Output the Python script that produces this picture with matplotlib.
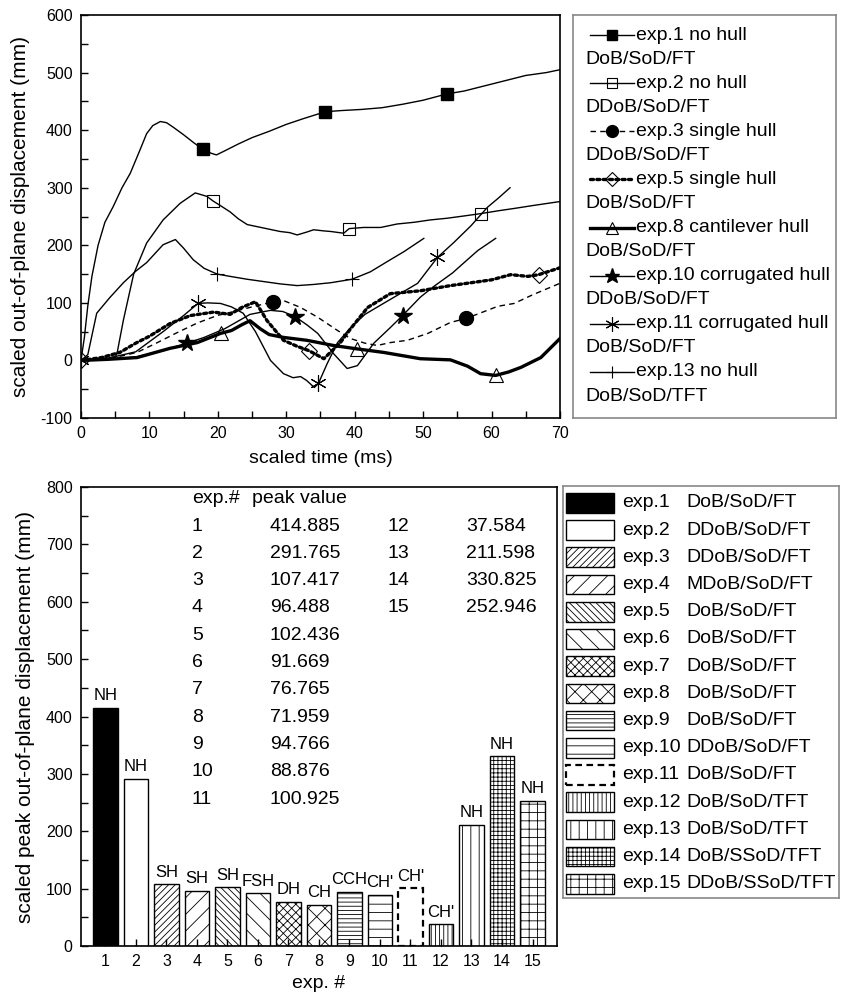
import matplotlib
matplotlib.use("Agg")
import matplotlib.pyplot as plt
from matplotlib.patches import Rectangle
from matplotlib.ticker import MultipleLocator

plt.rcParams['font.family'] = ['Liberation Sans', 'DejaVu Sans']
plt.rcParams['hatch.linewidth'] = 0.6
plt.rcParams['axes.unicode_minus'] = False

# ---- top panel: time histories ----
t1 = [0, 0.5, 1, 1.6, 2.5, 3.5, 4.7, 6, 7.2, 8.5, 9.6, 10.5, 11.6, 12.5, 13.5, 15, 16.5, 17.8, 19, 19.8,
      21, 23, 25, 27.5, 30, 32.5, 35.7, 38, 41, 44, 47, 50, 53.5, 56, 59, 62, 65, 68, 70]
y1 = [0, 40, 95, 146, 200, 240, 267, 300, 325, 362, 394, 408, 415, 413, 405, 392, 378, 367, 360, 357,
      364, 376, 387, 398, 410, 420, 432, 434, 436, 439, 445, 452, 463, 468, 477, 486, 495, 500, 505]
m1 = [17.8, 35.7, 53.5]

t2 = [0, 3, 5, 5.3, 6.2, 7.7, 9.6, 12, 14.5, 16.7, 18.4, 19.3, 20.5, 21.8, 23, 24.3, 26.7, 29.1, 30.5,
      31.6, 33, 34, 35.5, 36.5, 38.4, 39.2, 41.3, 43.8, 46.2, 48.7, 51, 53.5, 56, 58.4, 61, 63.3, 66, 70]
y2 = [0, 2, 5, 14, 70, 150, 204, 244, 273, 291, 285, 277, 268, 258, 246, 236, 230, 224, 222,
      218, 223, 227, 225, 224, 221, 229, 231, 231, 237, 240, 244, 247, 251, 255, 260, 264, 269, 276]
m2 = [19.3, 39.2, 58.4]

t3 = [0, 3, 6, 8.2, 11, 14, 17, 19.9, 22, 25, 28.1, 29.6, 32.1, 34.6, 37.5, 39.4, 41.5, 43.3, 45.2,
      47.7, 50.7, 54, 56.3, 58.5, 60.9, 63.3, 66, 70]
y3 = [0, 3, 8, 14, 30, 48, 65, 78, 84, 93, 102, 104, 92, 75, 52, 38, 30, 26, 31,
      35, 47, 66, 73, 83, 94, 99, 114, 134]
m3 = [28.1, 56.3]

t5 = [0, 3, 5.7, 8, 10, 13, 16, 19.4, 21.8, 23.5, 25.5, 27.2, 29.6, 31.5, 33.3, 35.5, 37.9, 39.4, 41.9,
      45.2, 49.6, 54, 57, 60, 62.8, 65.3, 66.9, 70]
y5 = [0, 5, 14, 30, 42, 64, 78, 84, 80, 92, 102, 69, 35, 25, 17, 3, 31, 55, 92,
      116, 121, 130, 135, 140, 149, 146, 149, 161]
m5 = [0, 33.3, 66.9]

t8 = [0, 4, 8.2, 13, 17, 20.4, 22, 23.5, 24.7, 26.2, 27.5, 29.6, 33, 36.9, 40.4, 44.2, 49.6, 54, 56.5,
      58.4, 60.6, 62.5, 64.3, 67.2, 70]
y8 = [0, 2, 5, 21, 31, 47, 52, 62, 69, 55, 45, 40, 35, 26, 20, 14, 3, 1, -10,
      -23, -26, -20, -12, 5, 38]
m8 = [20.4, 40.4, 60.6]

t10 = [0, 4, 8, 12, 15.5, 18, 21, 24.7, 27.7, 29.5, 31.3, 33, 34.6, 36.9, 38.9, 40.4, 42.8, 45.2, 47,
       49.6, 51.5, 54.3, 56, 58, 60.6]
y10 = [0, 2, 6, 17, 30, 40, 55, 80, 87, 85, 76, 62, 47, 12, -14, -9, 30, 57, 78,
       110, 128, 152, 170, 191, 212]
m10 = [15.5, 31.3, 47]

t11 = [0, 4, 8, 12, 15, 17.1, 18.5, 20.4, 22, 23.7, 25.5, 27.7, 29.6, 31, 32.1, 33, 34.1, 34.7, 36,
       37.5, 39.4, 41.5, 44.2, 46.5, 49.2, 52.1, 54.5, 57, 59.4, 61, 62.7]
y11 = [0, 4, 15, 50, 78, 99, 100, 99, 93, 82, 50, 0, -23, -30, -28, -35, -47, -40, -5,
       31, 57, 80, 99, 115, 134, 179, 205, 234, 266, 282, 300]
m11 = [0, 17.1, 34.7, 52.1]

t13 = [0, 1, 2.3, 4.2, 6.2, 8, 9.6, 12, 13.8, 15, 16.4, 18, 19.9, 21.8, 24.3, 26.7, 29.1, 31.6, 34,
       36.5, 39.6, 42.3, 44.8, 47.2, 50.1]
y13 = [0, 10, 82, 109, 135, 155, 170, 201, 210, 195, 175, 160, 150, 146, 141, 137, 133, 130, 132,
       135, 141, 154, 172, 189, 212]
m13 = [19.9, 39.6]

# ---- bottom panel: peak values ----
exps = list(range(1, 16))
peak = [414.885, 291.765, 107.417, 96.488, 102.436, 91.669, 76.765, 71.959, 94.766, 88.876,
        100.925, 37.584, 211.598, 330.825, 252.946]
hull_tags = ['NH', 'NH', 'SH', 'SH', 'SH', 'FSH', 'DH', 'CH', 'CCH', "CH'", "CH'", "CH'", 'NH', 'NH', 'NH']
configs = ['DoB/SoD/FT', 'DDoB/SoD/FT', 'DDoB/SoD/FT', 'MDoB/SoD/FT', 'DoB/SoD/FT', 'DoB/SoD/FT',
           'DoB/SoD/FT', 'DoB/SoD/FT', 'DoB/SoD/FT', 'DDoB/SoD/FT', 'DoB/SoD/FT', 'DoB/SoD/TFT',
           'DoB/SoD/TFT', 'DoB/SSoD/TFT', 'DDoB/SSoD/TFT']
hatches = [None, None, '/////', '//', '\\\\\\\\\\', '\\\\', 'xxxx', 'xx', '----', '--', None,
           '||||', '||', '++++', '++']

fig = plt.figure(figsize=(8.46, 10.01), dpi=100)

# ================= top =================
ax = fig.add_axes([0.0957, 0.5824, 0.5662, 0.4026])
series = [
    (t1, y1, m1, dict(color='k', lw=1.0, marker='s', ms=8, mfc='k')),
    (t2, y2, m2, dict(color='k', lw=1.0, marker='s', ms=8, mfc='none', mew=0.8)),
    (t3, y3, m3, dict(color='k', lw=1.0, ls=(0, (4, 3)), marker='o', ms=10, mfc='k')),
    (t5, y5, m5, dict(color='k', lw=2.4, ls=(0, (0.9, 1.0)), dash_capstyle='round', marker='D', ms=8,
                      mfc='none', mew=0.8)),
    (t8, y8, m8, dict(color='k', lw=2.4, marker='^', ms=10, mfc='none', mew=0.8)),
    (t10, y10, m10, dict(color='k', lw=1.0, marker='*', ms=13, mfc='k')),
    (t11, y11, m11, dict(color='k', lw=1.0, marker=(6, 2, 0), ms=12, mew=0.8)),
    (t13, y13, m13, dict(color='k', lw=1.0, marker='+', ms=10, mew=0.8)),
]
for t, y, m, st in series:
    ax.plot(t, y, markevery=[t.index(v) for v in m], **st)

ax.set_xlim(0, 70)
ax.set_ylim(-100, 600)
ax.xaxis.set_major_locator(MultipleLocator(10))
ax.xaxis.set_minor_locator(MultipleLocator(5))
ax.yaxis.set_major_locator(MultipleLocator(100))
ax.yaxis.set_minor_locator(MultipleLocator(50))
ax.tick_params(which='both', direction='in', length=5, width=1, labelsize=11.5, pad=6)
ax.set_xlabel('scaled time (ms)', fontsize=14, labelpad=6)
ax.set_ylabel('scaled out-of-plane displacement (mm)', fontsize=15, labelpad=8)
for s in ax.spines.values():
    s.set_linewidth(1.2)

# top legend
lg = fig.add_axes([0.6773, 0.5824, 0.3109, 0.4026])
lg.set_xlim(0, 1)
lg.set_ylim(0, 1)
lg.set_xticks([])
lg.set_yticks([])
for s in lg.spines.values():
    s.set_color('#888888')
    s.set_linewidth(1.2)
top_labels = [('exp.1 no hull', 'DoB/SoD/FT'), ('exp.2 no hull', 'DDoB/SoD/FT'),
              ('exp.3 single hull', 'DDoB/SoD/FT'), ('exp.5 single hull', 'DoB/SoD/FT'),
              ('exp.8 cantilever hull', 'DoB/SoD/FT'), ('exp.10 corrugated hull', 'DDoB/SoD/FT'),
              ('exp.11 corrugated hull', 'DoB/SoD/FT'), ('exp.13 no hull', 'DoB/SoD/TFT')]
row = 24.07 / 403
for i, ((l1, l2), (_, _, _, st)) in enumerate(zip(top_labels, series)):
    yc = 1 - (20 + 2 * i * 24.07) / 403
    st2 = dict(st)
    mk = {k: st2.pop(k) for k in ['marker', 'ms', 'mfc', 'mew'] if k in st2}
    lg.plot([0.065, 0.232], [yc, yc], **st2)
    lg.plot([0.148], [yc], ls='none', color='k',
            marker=mk['marker'], ms=mk['ms'] * 0.85, mfc=mk.get('mfc', 'k'), mew=mk.get('mew', 1))
    lg.text(0.24, yc, l1, fontsize=14, va='center', ha='left')
    lg.text(0.046, yc - row, l2, fontsize=14, va='center', ha='left')

# ================= bottom =================
bx = fig.add_axes([0.0957, 0.0549, 0.5626, 0.4586])
for x, v, h, tag in zip(exps, peak, hatches, hull_tags):
    face = 'k' if x == 1 else 'white'
    ls = (0, (3, 2)) if x == 11 else '-'
    lw = 1.6 if x == 11 else 1.0
    bx.bar(x, v, width=0.8, color=face, edgecolor='k', hatch=h, linewidth=lw, linestyle=ls)
    bx.text(x, v + 8, tag, ha='center', va='bottom', fontsize=12)

bx.set_xlim(0.2, 15.8)
bx.set_ylim(0, 800)
bx.set_xticks(exps)
bx.yaxis.set_major_locator(MultipleLocator(100))
bx.yaxis.set_minor_locator(MultipleLocator(50))
bx.tick_params(which='both', direction='in', length=5, width=1, labelsize=11.5, pad=6)
bx.set_xlabel('exp. #', fontsize=14, labelpad=4)
bx.set_ylabel('scaled peak out-of-plane displacement (mm)', fontsize=15, labelpad=8)
for s in bx.spines.values():
    s.set_linewidth(1.2)

# peak-value table inside the bar chart
bx.text(0.233, 0.974, 'exp.#', transform=bx.transAxes, fontsize=14, va='center')
bx.text(0.359, 0.974, 'peak value', transform=bx.transAxes, fontsize=14, va='center')
for i, (x, v) in enumerate(zip(exps, peak)):
    if i < 11:
        cx, cv, r = 0.233, 0.397, i
    else:
        cx, cv, r = 0.645, 0.809, i - 11
    yy = 0.915 - 0.0595 * r
    bx.text(cx, yy, str(x), transform=bx.transAxes, fontsize=14, va='center')
    bx.text(cv, yy, f'{v:.3f}', transform=bx.transAxes, fontsize=14, va='center')

# bottom legend
lb = fig.add_axes([0.6655, 0.1029, 0.3262, 0.4116])
lb.set_xlim(0, 1)
lb.set_ylim(0, 1)
lb.set_xticks([])
lb.set_yticks([])
for s in lb.spines.values():
    s.set_color('#888888')
    s.set_linewidth(1.2)
for i, (x, h, c) in enumerate(zip(exps, hatches, configs)):
    yc = 1 - (17 + 27.2 * i) / 412
    face = 'k' if x == 1 else 'white'
    ls = (0, (3, 2)) if x == 11 else '-'
    lw = 1.6 if x == 11 else 1.0
    lb.add_patch(Rectangle((0.011, yc - 0.024), 0.174, 0.048, facecolor=face, edgecolor='k',
                           hatch=h, linewidth=lw, linestyle=ls))
    lb.text(0.214, yc, f'exp.{x}', fontsize=14, va='center')
    lb.text(0.446, yc, c, fontsize=14, va='center')

fig.savefig('out.png', dpi=100)
